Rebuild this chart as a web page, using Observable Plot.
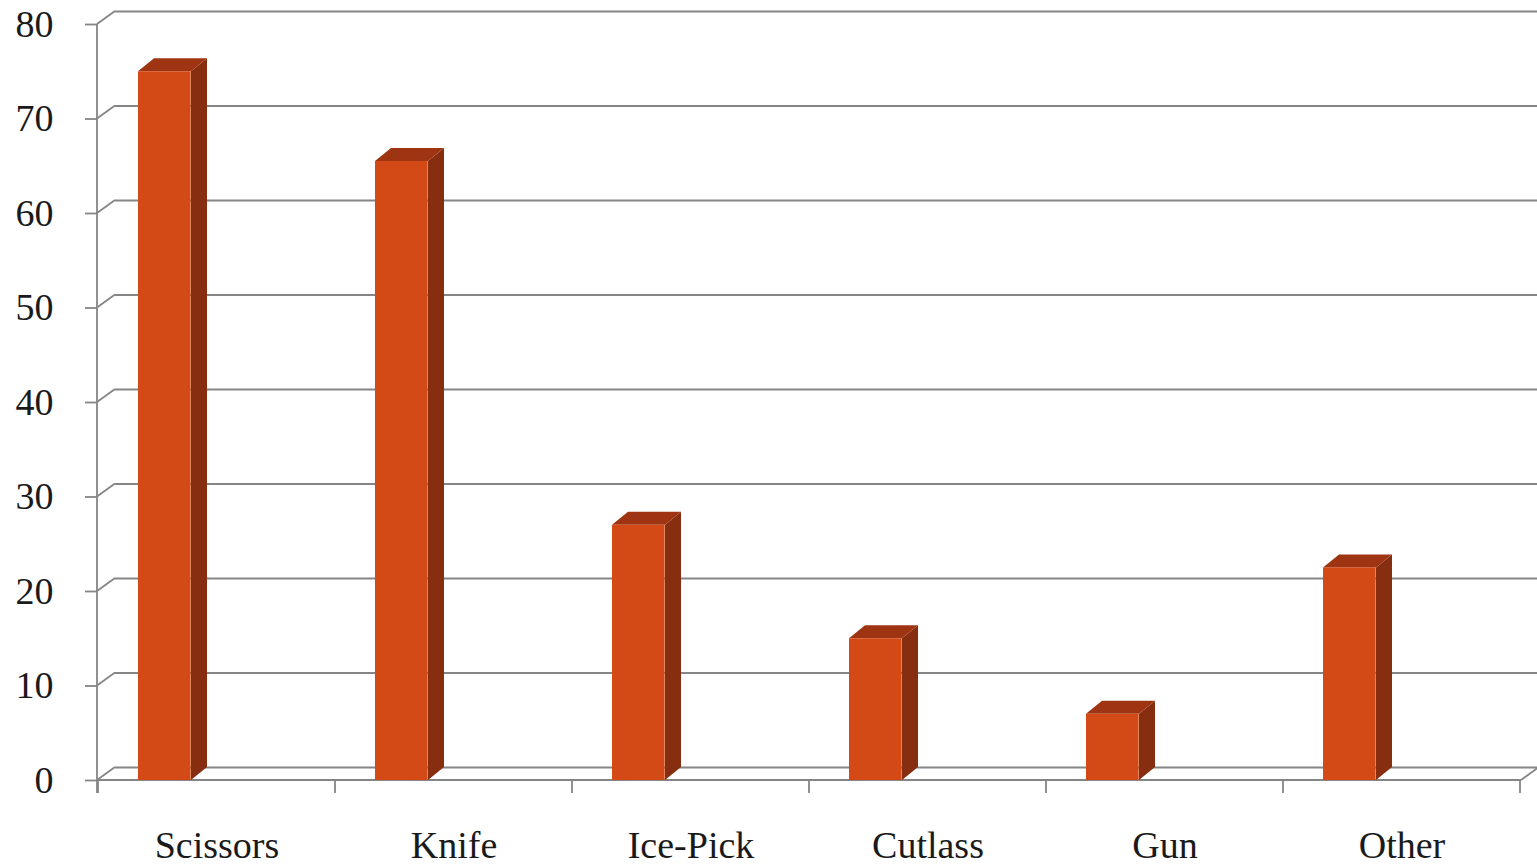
<!DOCTYPE html>
<html>
<head>
<meta charset="utf-8">
<script src="https://cdn.jsdelivr.net/npm/d3@7"></script>
<script src="https://cdn.jsdelivr.net/npm/@observablehq/plot@0.6"></script>
<style>
  html, body { margin: 0; padding: 0; background: #fff; }
  #chart { width: 1537px; height: 868px; overflow: hidden; }
  #chart svg text { font-family: "Liberation Serif", "DejaVu Serif", serif !important; }
</style>
</head>
<body>
<div id="chart"></div>
<script>
const categories = ["Scissors", "Knife", "Ice-Pick", "Cutlass", "Gun", "Other"];
const values = [75, 65.5, 27, 15, 7, 22.5];
const yTicks = [0, 10, 20, 30, 40, 50, 60, 70, 80];

const data = categories.map((c, i) => ({category: c, value: values[i]}));

const FRONT = "#D44A17", TOP = "#9E3412", SIDE = "#872E10", GRID = "#858585";
const SERIF = "Liberation Serif";
const wallDx = 18, wallDy = -13;   // back wall depth offset
const barDx = 16, barDy = -13;     // bar depth offset
const insetL = 40, barW = 53;

function svgEl(name, attrs) {
  const e = document.createElementNS("http://www.w3.org/2000/svg", name);
  for (const k in attrs) e.setAttribute(k, attrs[k]);
  return e;
}
function bw(x) { return typeof x.bandwidth === "function" ? x.bandwidth() : x.bandwidth; }

// Frame: axis line, diagonals, floor, x ticks
function frame3d(index, scales, values, dimensions) {
  const {x, y} = scales;
  const g = svgEl("g", {stroke: GRID, "stroke-width": 1.8, fill: "none"});
  const x0 = dimensions.marginLeft, x1 = dimensions.width - dimensions.marginRight;
  const y0 = y(0);
  g.appendChild(svgEl("line", {x1: x0, x2: x0, y1: y(80), y2: y0 + 13}));
  for (const t of yTicks) {
    g.appendChild(svgEl("line", {x1: x0, x2: x0 + wallDx, y1: y(t), y2: y(t) + wallDy}));
  }
  g.appendChild(svgEl("line", {x1: x0, x2: x1, y1: y0, y2: y0}));
  g.appendChild(svgEl("line", {x1: x1, x2: x1 + wallDx, y1: y0, y2: y0 + wallDy}));
  const b = bw(x);
  categories.forEach((c, i) => {
    const xs = x(c);
    g.appendChild(svgEl("line", {x1: xs, x2: xs, y1: y0, y2: y0 + 13}));
    if (i === categories.length - 1) g.appendChild(svgEl("line", {x1: xs + b, x2: xs + b, y1: y0, y2: y0 + 13}));
  });
  return g;
}

// 3D faces of the bars (side + top), positioned via scales
function barFaces(index, scales) {
  const {x, y} = scales;
  const g = svgEl("g", {});
  for (const d of data) {
    const xl = x(d.category) + insetL, xr = xl + barW;
    const yt = y(d.value), yb = y(0);
    g.appendChild(svgEl("polygon", {
      fill: SIDE,
      points: `${xr},${yb} ${xr + barDx},${yb + barDy} ${xr + barDx},${yt + barDy} ${xr},${yt}`
    }));
    g.appendChild(svgEl("polygon", {
      fill: TOP,
      points: `${xl},${yt} ${xl + barDx},${yt + barDy} ${xr + barDx},${yt + barDy} ${xr},${yt}`
    }));
  }
  return g;
}

const chart = Plot.plot({
  width: 1537,
  height: 868,
  marginLeft: 97,
  marginRight: 16,
  marginTop: 24,
  marginBottom: 88,
  style: {fontFamily: SERIF, color: "#1a1a1a", background: "#fff"},
  x: {type: "band", domain: categories, paddingInner: 0, paddingOuter: 0},
  y: {domain: [0, 80]},
  marks: [
    Plot.ruleY(yTicks.slice(1), {dx: wallDx, dy: wallDy, stroke: GRID, strokeWidth: 1.8}),
    Plot.ruleY([0], {dx: wallDx, dy: wallDy, stroke: GRID, strokeWidth: 1.8}),
    frame3d,
    Plot.axisY({ticks: yTicks, tickSize: 12, tickPadding: 32, fontSize: 38, fontFamily: SERIF, stroke: GRID, strokeWidth: 1.8, label: null}),
    Plot.axisX({tickSize: 0, tickPadding: 51, fontSize: 38, fontFamily: SERIF, label: null}),
    barFaces,
    Plot.barY(data, {x: "category", y: "value", fill: FRONT, insetLeft: insetL, insetRight: 237.33 - insetL - barW})
  ]
});
document.getElementById("chart").appendChild(chart);
</script>
</body>
</html>
